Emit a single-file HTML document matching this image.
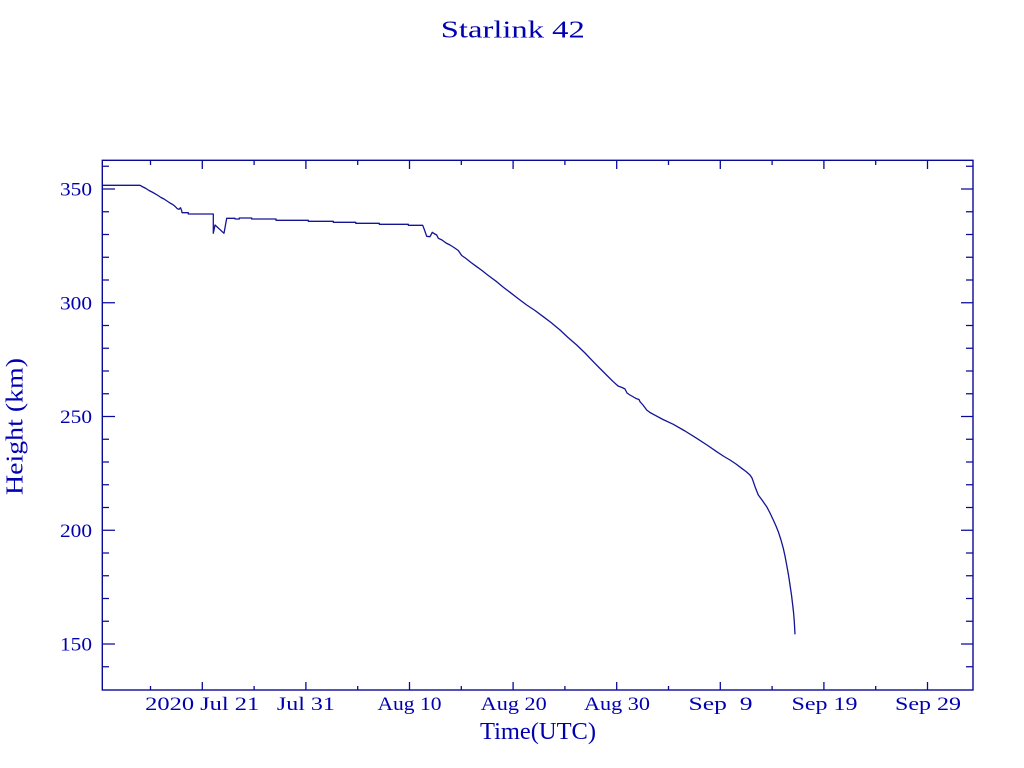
<!DOCTYPE html>
<html>
<head>
<meta charset="utf-8">
<style>
html,body{margin:0;padding:0;background:#fff;}
svg{display:block;}
text{font-family:"Liberation Serif","DejaVu Serif",serif;fill:#0000b0;}
</style>
</head>
<body>
<svg width="1024" height="768" viewBox="0 0 1024 768" xmlns="http://www.w3.org/2000/svg">
<rect x="0" y="0" width="1024" height="768" fill="#ffffff"/>

<!-- Title -->
<text x="512.8" y="37.3" font-size="24" text-anchor="middle" textLength="144" lengthAdjust="spacingAndGlyphs">Starlink 42</text>

<!-- Y axis label -->
<text transform="translate(22.7,426.5) rotate(-90)" x="0" y="0" font-size="24" text-anchor="middle" textLength="137" lengthAdjust="spacingAndGlyphs">Height (km)</text>

<!-- X axis label -->
<text x="538" y="739" font-size="24" text-anchor="middle" textLength="116" lengthAdjust="spacingAndGlyphs">Time(UTC)</text>

<!-- Frame -->
<rect x="102.3" y="160.3" width="870.7" height="529.7" fill="none" stroke="#0a0a9a" stroke-width="1.4"/>

<g stroke="#0a0a9a" stroke-width="1.3" fill="none">
<!-- X major ticks bottom/top -->
<path d="M202.3,690V682 M305.9,690V682 M409.5,690V682 M513.1,690V682 M616.7,690V682 M720.3,690V682 M823.9,690V682 M927.5,690V682
M202.3,160.3V169 M305.9,160.3V169 M409.5,160.3V169 M513.1,160.3V169 M616.7,160.3V169 M720.3,160.3V169 M823.9,160.3V169 M927.5,160.3V169"/>
<!-- X minor ticks -->
<path d="M150.5,690V686 M254.1,690V686 M357.7,690V686 M461.3,690V686 M564.9,690V686 M668.5,690V686 M772.1,690V686 M875.7,690V686
M150.5,160.3V165 M254.1,160.3V165 M357.7,160.3V165 M461.3,160.3V165 M564.9,160.3V165 M668.5,160.3V165 M772.1,160.3V165 M875.7,160.3V165"/>
<!-- Y major ticks -->
<path d="M102.3,189H115 M102.3,302.75H115 M102.3,416.5H115 M102.3,530.25H115 M102.3,644H115
M973,189H961 M973,302.75H961 M973,416.5H961 M973,530.25H961 M973,644H961"/>
<!-- Y minor ticks -->
<path d="M102.3,166.25H109 M102.3,211.75H109 M102.3,234.5H109 M102.3,257.25H109 M102.3,280H109 M102.3,325.5H109 M102.3,348.25H109 M102.3,371H109 M102.3,393.75H109 M102.3,439.25H109 M102.3,462H109 M102.3,484.75H109 M102.3,507.5H109 M102.3,553H109 M102.3,575.75H109 M102.3,598.5H109 M102.3,621.25H109 M102.3,666.75H109
M973,166.25H966 M973,211.75H966 M973,234.5H966 M973,257.25H966 M973,280H966 M973,325.5H966 M973,348.25H966 M973,371H966 M973,393.75H966 M973,439.25H966 M973,462H966 M973,484.75H966 M973,507.5H966 M973,553H966 M973,575.75H966 M973,598.5H966 M973,621.25H966 M973,666.75H966"/>
</g>

<!-- Y tick labels -->
<g font-size="19" text-anchor="end">
<text x="92" y="195.5" textLength="32" lengthAdjust="spacingAndGlyphs">350</text>
<text x="92" y="309.3" textLength="32" lengthAdjust="spacingAndGlyphs">300</text>
<text x="92" y="423" textLength="32" lengthAdjust="spacingAndGlyphs">250</text>
<text x="92" y="536.8" textLength="32" lengthAdjust="spacingAndGlyphs">200</text>
<text x="92" y="650.5" textLength="32" lengthAdjust="spacingAndGlyphs">150</text>
</g>

<!-- X tick labels -->
<g font-size="19" text-anchor="middle">
<text x="202.2" y="710" textLength="114" lengthAdjust="spacingAndGlyphs">2020 Jul 21</text>
<text x="305.9" y="710" textLength="58" lengthAdjust="spacingAndGlyphs">Jul 31</text>
<text x="409.5" y="710" textLength="64" lengthAdjust="spacingAndGlyphs">Aug 10</text>
<text x="513.7" y="710" textLength="66" lengthAdjust="spacingAndGlyphs">Aug 20</text>
<text x="617" y="710" textLength="66" lengthAdjust="spacingAndGlyphs">Aug 30</text>
<text x="720.5" y="710" textLength="64" lengthAdjust="spacingAndGlyphs">Sep&#160;&#160;9</text>
<text x="824.5" y="710" textLength="66" lengthAdjust="spacingAndGlyphs">Sep 19</text>
<text x="928" y="710" textLength="66" lengthAdjust="spacingAndGlyphs">Sep 29</text>
</g>

<!-- Data curve -->
<path fill="none" stroke="#141496" stroke-width="1.3" stroke-linejoin="round" d="
M102.7,185.3 H140 L143,187 L146,188.5 L149,190.5 L152,192 L155,193.7 L158,195.5 L161,197.5 L164,199 L167,201 L170,203 L173,204.7 L175,206.3 L177.3,208.7 L179,209.3 L180.5,207.7 L181.7,210.7 L182,212.7 H188.3 V214 H213.3 V233.3 L215,225 L224,233.3 L226.7,218.3 H235 V219 H239.3 V218 H251.7 V219 H276 V220.3 H308.3 V221.3 H333.3 V222.3 H355.7 V223.3 H379.3 V224.3 H408.3 V225.3 H422.7
L424.5,230 L426.7,236.3 L430,236.7 L432.3,232.3 L434,233.5 L436.7,235 L438.3,238.3 L442,240 L446,243 L450,245 L454,247.5 L458.3,250.5 L461.7,255.5 L466,258.5 L471,262.5 L476.7,266.7 L482,270.5 L487,274.5 L491,277.5 L496.7,281.7 L503,287 L510,292.3 L518,298.5 L526.7,305 L535,310.5 L543.3,316.7 L551,322.5 L560,330 L568,337.5 L576.7,345 L585,353 L593.3,361.7 L600,368.5 L606,374.5 L613.3,381.7 L618,386 L622,387.5 L625,389 L627,393 L630,395 L636,398.5 L639,399.5 L640,401.7 L643,405 L646.7,410 L650,412.5 L653.3,414.3 L663,419.5 L673.3,424.3 L685,431 L696.7,438.3 L707,445 L716.7,451.7 L724,456.5 L730,460 L736,464 L741.7,468.3 L746,471.5 L750,475 L752,478 L753.3,481.7 L755.5,488 L758.3,495 L762,500 L766.7,506.7 L770,513 L773.3,520 L776,526 L778.3,531.7 L781,540 L783.3,548.3 L785,556 L786.7,565 L788.5,575 L790,585 L791.5,595 L792.7,605 L793.6,613 L794.3,621.7 L795,634.3"/>
</svg>
</body>
</html>
